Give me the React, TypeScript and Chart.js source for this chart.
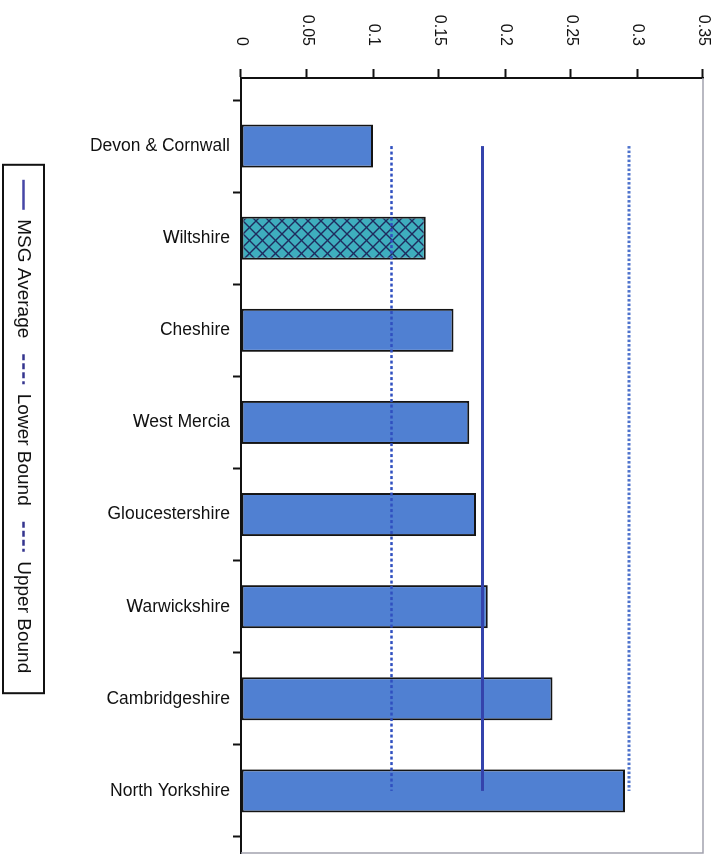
import React, { useEffect, useRef } from 'react';
import { Chart, registerables } from 'chart.js';

Chart.register(...registerables);

// ---- data ----
const categories = [
  'Devon & Cornwall',
  'Wiltshire',
  'Cheshire',
  'West Mercia',
  'Gloucestershire',
  'Warwickshire',
  'Cambridgeshire',
  'North Yorkshire',
];
const values = [0.1, 0.14, 0.161, 0.173, 0.178, 0.187, 0.236, 0.291];
const msgAverage = [0.183, 0.183, 0.183, 0.183, 0.183, 0.183, 0.183, 0.183];
const lowerBound = [0.114, 0.114, 0.114, 0.114, 0.114, 0.114, 0.114, 0.114];
const upperBound = [0.294, 0.294, 0.294, 0.294, 0.294, 0.294, 0.294, 0.294];
const valueTicks = [0, 0.05, 0.1, 0.15, 0.2, 0.25, 0.3, 0.35];
const seriesNames = ['MSG Average', 'Lower Bound', 'Upper Bound'];
const highlighted = 'Wiltshire';

const FONT = '"Liberation Sans", Arial, Helvetica, sans-serif';
const legendColors = ['#4646a6', '#34348e', '#34348e'];

const framePlugin = {
  id: 'frame',
  beforeDatasetsDraw(chart: any) {
    const { ctx, chartArea: a } = chart;
    ctx.save();
    ctx.strokeStyle = '#a2a2ae';
    ctx.lineWidth = 1.5;
    ctx.beginPath();
    ctx.moveTo(a.left, a.top);
    ctx.lineTo(a.right, a.top);
    ctx.lineTo(a.right, a.bottom);
    ctx.stroke();
    ctx.restore();
  },
  afterDraw(chart: any) {
    const lg = chart.legend;
    if (!lg || !lg.legendHitBoxes || !lg.legendHitBoxes.length) return;
    const hb = lg.legendHitBoxes;
    let minX = Infinity;
    let maxX = -Infinity;
    hb.forEach((h: any) => {
      minX = Math.min(minX, h.left);
      maxX = Math.max(maxX, h.left + h.width);
    });
    const cy = hb[0].top + hb[0].height / 2;
    const { ctx } = chart;
    ctx.save();
    ctx.strokeStyle = '#111';
    ctx.lineWidth = 2;
    ctx.strokeRect(minX - 15, cy - 20.5, maxX - minX + 15 + 20, 41);
    ctx.restore();
  },
};

export default function App() {
  const ref = useRef<HTMLCanvasElement>(null);

  useEffect(() => {
    const canvas = ref.current;
    if (!canvas) return;

    // cross-hatch pattern for the highlighted bar
    const pc = document.createElement('canvas');
    pc.width = 13;
    pc.height = 13;
    const p = pc.getContext('2d')!;
    p.fillStyle = '#3eaebe';
    p.fillRect(0, 0, 13, 13);
    p.strokeStyle = '#1f2b5e';
    p.lineWidth = 1.4;
    p.beginPath();
    p.moveTo(-1, -1);
    p.lineTo(14, 14);
    p.moveTo(14, -1);
    p.lineTo(-1, 14);
    p.stroke();
    const ctx = canvas.getContext('2d')!;
    const pattern = ctx.createPattern(pc, 'repeat');

    const barColors = categories.map((c) => (c === highlighted ? pattern : '#5080d2'));

    const toPoints = (arr: number[]) => arr.map((v, i) => ({ x: i, y: v }));

    const indexTicks: { value: number }[] = [];
    for (let i = 0; i <= categories.length; i++) {
      indexTicks.push({ value: i - 0.5 });
      if (i < categories.length) indexTicks.push({ value: i });
    }

    const chart = new Chart(canvas, {
      type: 'bar',
      data: {
        datasets: [
          {
            type: 'line',
            label: seriesNames[0],
            data: toPoints(msgAverage),
            borderColor: '#3443ac',
            backgroundColor: '#3443ac',
            borderWidth: 3,
            pointRadius: 0,
            order: 1,
          },
          {
            type: 'line',
            label: seriesNames[1],
            data: toPoints(lowerBound),
            borderColor: '#2f4fc0',
            backgroundColor: '#2f4fc0',
            borderWidth: 2.5,
            borderDash: [3, 2.5],
            pointRadius: 0,
            order: 1,
          },
          {
            type: 'line',
            label: seriesNames[2],
            data: toPoints(upperBound),
            borderColor: '#4d72cc',
            backgroundColor: '#4d72cc',
            borderWidth: 3,
            borderDash: [2.5, 2],
            pointRadius: 0,
            order: 1,
          },
          {
            type: 'bar',
            label: 'Value',
            data: toPoints(values),
            backgroundColor: barColors as any,
            borderColor: '#141414',
            borderWidth: 2,
            borderSkipped: false,
            categoryPercentage: 1,
            barPercentage: 0.935,
            order: 2,
          },
        ] as any,
      },
      options: {
        responsive: false,
        animation: false,
        devicePixelRatio: 1,
        layout: { padding: { top: 21, right: 2, bottom: 4, left: 0 } },
        font: { family: FONT },
        scales: {
          x: {
            type: 'linear',
            min: -0.739,
            max: 7.674,
            offset: false,
            afterBuildTicks: (s: any) => {
              s.ticks = indexTicks.map((t) => ({ value: t.value }));
            },
            afterFit: (s: any) => {
              s.height = 192;
              s.paddingLeft = 0;
              s.paddingRight = 0;
            },
            ticks: {
              autoSkip: false,
              minRotation: 90,
              maxRotation: 90,
              padding: 3,
              color: '#111',
              font: { family: FONT, size: 17.5 },
              callback: (v: any) => (Number.isInteger(v) ? categories[v] : ''),
            },
            grid: {
              offset: false,
              drawOnChartArea: false,
              tickLength: 8,
              tickWidth: 2,
              tickColor: (c: any) =>
                c.tick && !Number.isInteger(c.tick.value) ? '#111' : 'rgba(0,0,0,0)',
            },
            border: { color: '#111', width: 2 },
          },
          y: {
            type: 'linear',
            min: 0,
            max: 0.35,
            afterBuildTicks: (s: any) => {
              s.ticks = valueTicks.map((v) => ({ value: v }));
            },
            afterFit: (s: any) => {
              s.width = 78;
              s.paddingTop = 0;
              s.paddingBottom = 0;
            },
            ticks: {
              padding: 23,
              color: '#111',
              font: { family: FONT, size: 16 },
              callback: (v: any) => String(v),
            },
            grid: {
              drawOnChartArea: false,
              tickLength: 9,
              tickWidth: 2,
              tickColor: '#111',
            },
            border: { color: '#111', width: 2 },
          },
        },
        plugins: {
          tooltip: { enabled: false },
          legend: {
            position: 'bottom',
            labels: {
              generateLabels: (chart: any) =>
                chart.data.datasets.slice(0, 3).map((ds: any, i: number) => ({
                  text: ds.label,
                  datasetIndex: i,
                  hidden: false,
                  fillStyle: legendColors[i],
                  strokeStyle: legendColors[i],
                  fontColor: '#111',
                  lineWidth: 2.5,
                  lineDash: ds.borderDash ? [6, 3] : [],
                  lineCap: 'butt',
                  pointStyle: 'line',
                })),
              usePointStyle: true,
              pointStyle: 'line',
              pointStyleWidth: 30,
              padding: 16,
              color: '#111',
              font: { family: FONT, size: 19 },
            },
          },
        },
      } as any,
      plugins: [framePlugin],
    });

    return () => {
      chart.destroy();
    };
  }, []);

  return (
    <div
      style={{
        position: 'fixed',
        left: 0,
        top: 0,
        width: 724,
        height: 855,
        overflow: 'hidden',
        background: '#fff',
      }}
    >
      <canvas
        ref={ref}
        width={855}
        height={724}
        style={{
          position: 'absolute',
          left: 0,
          top: 0,
          width: 855,
          height: 724,
          transformOrigin: '0 0',
          transform: 'translate(724px, 0) rotate(90deg)',
        }}
      />
    </div>
  );
}
